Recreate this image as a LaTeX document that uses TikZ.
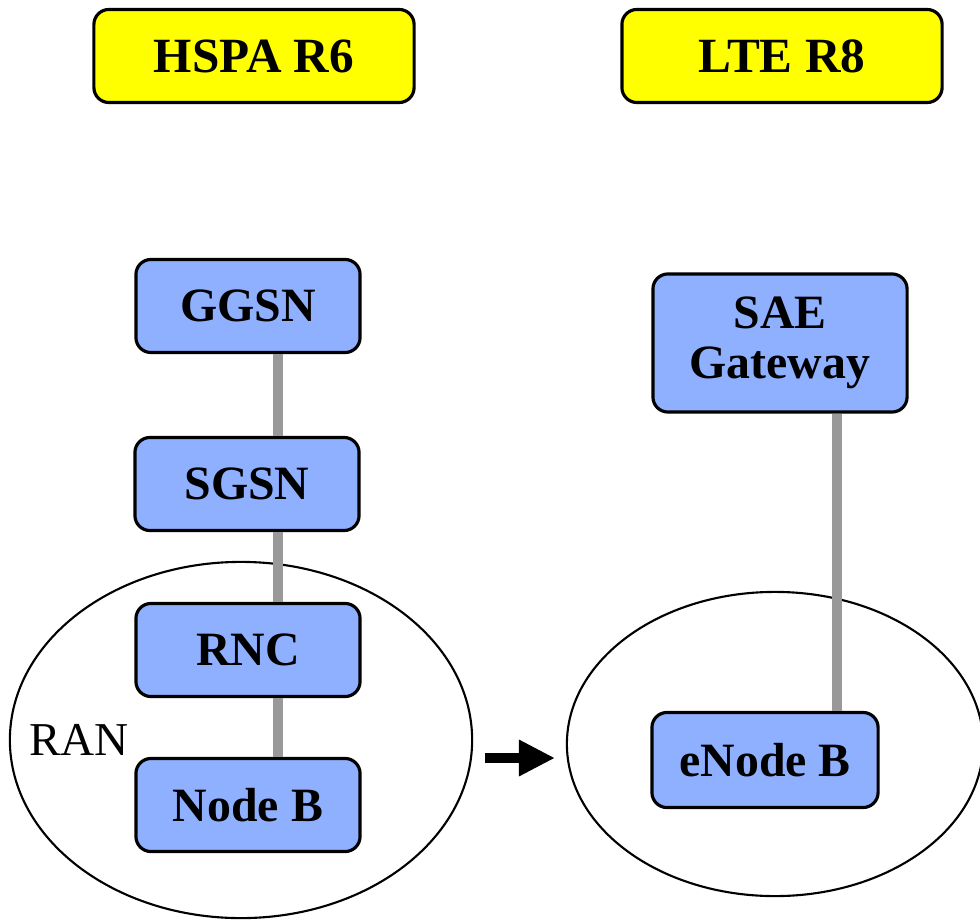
\documentclass[tikz,border=0pt]{standalone}
\usepackage{fontspec}
\setmainfont{Liberation Serif}
\usepackage{tikz}
\usetikzlibrary{shapes.geometric,arrows.meta}
\definecolor{HeadYellow}{HTML}{FFFF00}
\definecolor{BoxBlue}{HTML}{8FAFFF}
\definecolor{LinkGrey}{HTML}{999999}
\newcommand{\cHead}{HeadYellow}
\newcommand{\cBox}{BoxBlue}
\newcommand{\cLink}{LinkGrey}

\begin{document}
\begin{tikzpicture}[x=0.01cm,y=-0.01cm,
    headbox/.style={draw, line width=0.9pt, fill=\cHead, rounded corners=0.15cm,
        minimum width=3.2cm, minimum height=0.93cm, font=\fontsize{14}{16}\selectfont\bfseries},
    netbox/.style={draw, line width=0.9pt, fill=\cBox, rounded corners=0.15cm,
        minimum width=2.24cm, minimum height=0.93cm, align=center,
        font=\fontsize{13.6}{14.3}\selectfont\bfseries},
    area/.style={draw, ellipse, line width=0.6pt},
    link/.style={draw=\cLink, line width=2.8pt},
    bigarrow/.style={line width=2.6pt, -{Triangle[length=0.36cm,width=0.34cm]}}]
    \useasboundingbox (0,0) rectangle (980,919);
    % --- --- --- Headers
    \node[headbox] (hspa) at (254,56) {HSPA R6};
    \node[headbox] (lte)  at (782,56) {LTE R8};
    % --- --- --- Radio access areas
    \node[area, minimum width=4.62cm, minimum height=3.56cm] (ran)  at (241,740) {};
    \node[area, minimum width=4.16cm, minimum height=3.04cm] (eran) at (775,744) {};
    \node[font=\fontsize{13.4}{15}\selectfont] (ranlabel) at (79,740) {RAN};
    % --- --- --- HSPA chain
    \node[netbox] (ggsn)  at (248,306) {GGSN};
    \node[netbox] (sgsn)  at (247,484) {SGSN};
    \node[netbox] (rnc)   at (248,650) {RNC};
    \node[netbox] (nodeb) at (248,805) {Node B};
    % --- --- --- LTE chain
    \node[netbox, minimum width=2.54cm, minimum height=1.38cm] (sae) at (780,343) {SAE\\Gateway};
    \node[netbox, minimum width=2.26cm, minimum height=0.95cm] (enodeb) at (765,760) {eNode B};
    % === === === Links
    \draw[link] ([xshift=0.3cm]ggsn.south) -- ([xshift=0.3cm]ggsn.south |- sgsn.north);
    \draw[link] ([xshift=0.31cm]sgsn.south) -- ([xshift=0.31cm]sgsn.south |- rnc.north);
    \draw[link] ([xshift=0.3cm]rnc.south) -- ([xshift=0.3cm]rnc.south |- nodeb.north);
    \draw[link] ([xshift=0.57cm]sae.south) -- ([xshift=0.57cm]sae.south |- enodeb.north);
    % === === === Evolution arrow
    \coordinate (arrtail) at (485,758);
    \coordinate (arrtip)  at (555,758);
    \draw[bigarrow] (arrtail) -- (arrtip);
\end{tikzpicture}
\end{document}
